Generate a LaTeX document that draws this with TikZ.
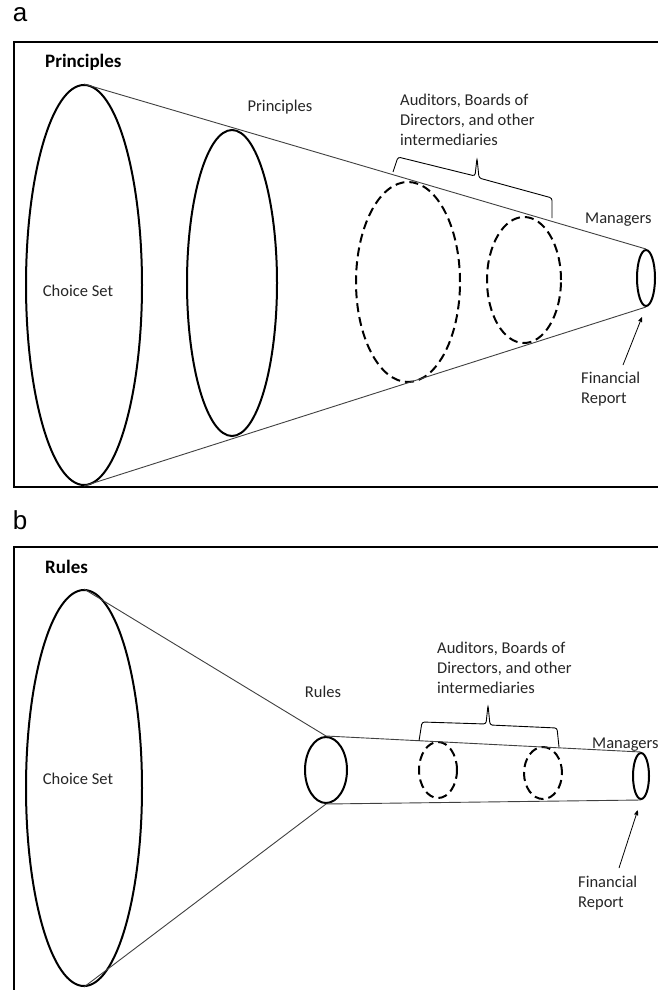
\documentclass[tikz,border=0pt]{standalone}
\usepackage{fontspec}
\setmainfont{Carlito}
\newfontfamily\panelfont{Liberation Sans}
\usetikzlibrary{arrows}
\usetikzlibrary{shapes.geometric}

\begin{document}
\begin{tikzpicture}[x=1pt,y=-1pt,>=stealth',
  ring/.style={shape=ellipse,draw,line width=2pt,inner sep=0pt},
  dashring/.style={ring,dash pattern=on 9pt off 5pt},
  cone/.style={draw=black!75,line width=0.9pt},
  frame/.style={draw,line width=2.2pt},
  lbl/.style={font=\fontsize{16.5}{20}\selectfont,text=black!85,inner sep=0pt,align=left},
  ttl/.style={lbl,font=\fontsize{19}{20}\selectfont\bfseries,text=black},
  panel/.style={font=\panelfont\fontsize{26}{26}\selectfont,inner sep=0pt},
  bracket/.style={draw,line width=0.9pt,rounded corners=2.5pt},
  pointer/.style={->,line width=0.8pt,shorten >=11pt}]
  \clip (0,0) rectangle (658,990);
  \fill[white] (0,0) rectangle (658,990);

  \node[panel] (pa) at (20,15) {a};
  \draw[frame] (14,42) rectangle (700,487);
  \node[ttl,anchor=west] (tpa) at (45,62) {Principles};

  \node[ring,minimum width=116pt,minimum height=400pt] (cs)  at (84,285)  {};
  \node[ring,minimum width=90pt,minimum height=306pt]  (pr)  at (232,283) {};
  \node[dashring,minimum width=104pt,minimum height=200pt] (au) at (408,282) {};
  \node[dashring,minimum width=74pt,minimum height=126pt]  (bd) at (524,280) {};
  \node[ring,minimum width=18pt,minimum height=56pt]   (mg)  at (646,278) {};

  \draw[cone] (cs.north) -- (mg.north);
  \draw[cone] (cs.south) -- (mg.south);

  \node[lbl] (csl) at (78,291) {Choice Set};
  \node[lbl] (prl) at (280,107) {Principles};
  \node[lbl,anchor=west] (aul) at (400,120) {Auditors, Boards of\\Directors, and other\\intermediaries};
  \node[lbl,anchor=west] (mgl) at (585,220) {Managers};
  \node[lbl,anchor=west] (frl) at (581,389) {Financial\\Report};

  \coordinate (ba1) at (393,172);
  \coordinate (ba2) at (552,218);
  \coordinate (ta) at (477,158);
  \draw[bracket] (ba1) -- (398,157) -- (475,176) -- (ta) -- (479,178) -- (552,198) -- (ba2);
  \coordinate (fa) at (623,365);
  \draw[pointer] (fa) -- (mg.south);

  \node[panel] (pb) at (20,520) {b};
  \draw[frame] (14,547) rectangle (700,1010);
  \node[ttl,anchor=west] (tpb) at (45,567) {Rules};

  \node[ring,minimum width=116pt,minimum height=396pt] (cs2) at (84,788)  {};
  \node[ring,minimum width=42pt,minimum height=66pt]   (ru)  at (326,770) {};
  \node[dashring,minimum width=38pt,minimum height=56pt] (au2) at (438,770) {};
  \node[dashring,minimum width=38pt,minimum height=52pt] (bd2) at (543,773) {};
  \node[ring,minimum width=16pt,minimum height=46pt]   (mg2) at (641,776) {};

  \draw[cone] (cs2.north) -- (ru.north);
  \draw[cone] (cs2.south) -- (ru.south);
  \draw[cone] (ru.north) -- (mg2.north);
  \draw[cone] (ru.south) -- (mg2.south);

  \node[lbl] (csl2) at (78,779) {Choice Set};
  \node[lbl] (rul) at (323,692) {Rules};
  \node[lbl,anchor=west] (aul2) at (437,668) {Auditors, Boards of\\Directors, and other\\intermediaries};
  \node[lbl,anchor=west] (mgl2) at (592,745) {Managers};
  \node[lbl,anchor=west] (frl2) at (578,893) {Financial\\Report};

  \coordinate (bb1) at (419,741);
  \coordinate (bb2) at (559,747);
  \coordinate (tb) at (488,705);
  \draw[bracket] (bb1) -- (422,722) -- (486,724) -- (tb) -- (490,725) -- (557,728) -- (bb2);
  \coordinate (fb) at (619,868);
  \draw[pointer] (fb) -- (mg2.south);
\end{tikzpicture}
\end{document}
